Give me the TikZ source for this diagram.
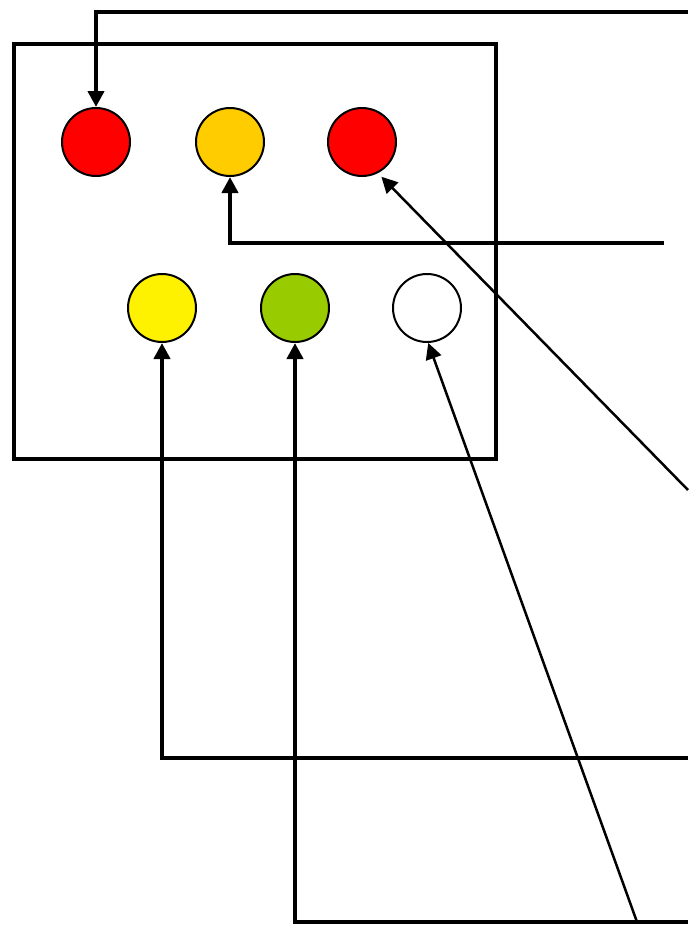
\documentclass[tikz,border=0pt]{standalone}
\usepackage{tikz}
\usetikzlibrary{arrows.meta}
\definecolor{lampamber}{HTML}{FFCC00}
\definecolor{lampgreen}{HTML}{99CC00}

\begin{document}
\begin{tikzpicture}[x=1pt, y=-1pt,
    lamp/.style={circle, draw, line width=2pt, minimum size=68pt, inner sep=0pt},
    wire/.style={line width=4pt, -{Triangle[length=16pt, width=16pt]}},
    thinwire/.style={line width=2.5pt, -{Triangle[length=16pt, width=16pt]}}]
    \useasboundingbox (0,0) rectangle (688,926);
    % housing
    \draw[line width=4pt] (14,44) rectangle (496,459);
    % lamps
    \node[lamp, fill=red] (red1) at (96,142) {};
    \node[lamp, fill=lampamber] (amber) at (230,142) {};
    \node[lamp, fill=red] (red2) at (362,142) {};
    \node[lamp, fill=yellow] (yel) at (162,308) {};
    \node[lamp, fill=lampgreen] (grn) at (295,308) {};
    \node[lamp, fill=white] (wht) at (427,308) {};
    % wire ends
    \coordinate (s1) at (688,12);
    \coordinate (s2) at (664,243);
    \coordinate (s3) at (688,490);
    \coordinate (s4) at (688,758);
    \coordinate (s5) at (688,922);
    \coordinate (s6) at (637,922);
    % wires
    \draw[wire] (s1) -| (red1);
    \draw[wire] (s2) -| (amber);
    \draw[thinwire, shorten >=5pt] (s3) -- (red2.-63);
    \draw[wire] (s4) -| (yel);
    \draw[wire] (s5) -| (grn);
    \draw[thinwire] (s6) -- (wht.-88);
\end{tikzpicture}
\end{document}
